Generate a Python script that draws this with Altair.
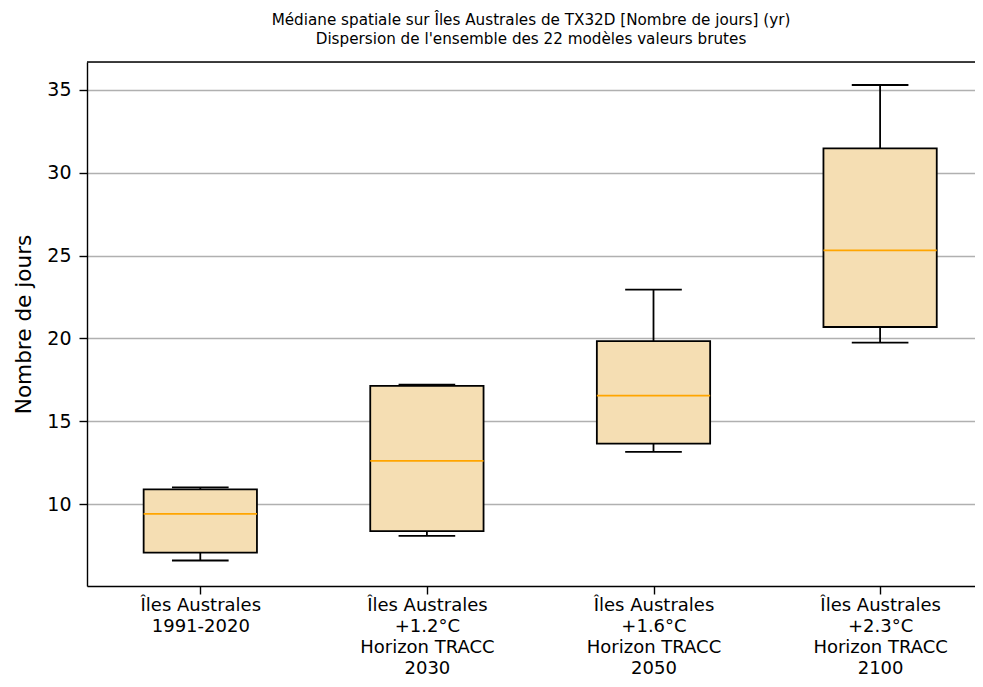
import json
import altair as alt
import pandas as pd

# ---- data ----
labels = [
    "Îles Australes|1991-2020",
    "Îles Australes|+1.2°C|Horizon TRACC|2030",
    "Îles Australes|+1.6°C|Horizon TRACC|2050",
    "Îles Australes|+2.3°C|Horizon TRACC|2100",
]
whisker_low = [6.59, 8.08, 13.15, 19.74]
q1 = [7.06, 8.36, 13.65, 20.69]
median = [9.41, 12.60, 16.54, 25.31]
q3 = [10.89, 17.13, 19.84, 31.48]
whisker_high = [11.01, 17.21, 22.94, 35.30]
y_ticks = [10, 15, 20, 25, 30, 35]

df = pd.DataFrame({
    "pos": list(range(1, len(labels) + 1)),
    "label": labels,
    "lo": whisker_low,
    "q1": q1,
    "med": median,
    "q3": q3,
    "hi": whisker_high,
})

FONT = "DejaVu Sans"
W, H = 888, 524
xdom = [0.5, 0.5 + W / 226.6]
ydom = [5.05, 36.69]

label_expr = "split(" + json.dumps(labels, ensure_ascii=False) + "[datum.value - 1], '|')"

x_axis = alt.Axis(
    values=list(df["pos"]), labelExpr=label_expr, title=None, grid=False,
    labelFontSize=18, labelLineHeight=21, labelFont=FONT, labelColor="black",
    labelPadding=2, tickSize=8, tickColor="black", tickWidth=1.4,
    domainColor="black", domainWidth=1.4, labelBaseline="top",
)
y_axis = alt.Axis(
    values=y_ticks, title="Nombre de jours", grid=True, gridColor="#b0b0b0",
    gridWidth=1.4, labelFontSize=19, labelFont=FONT, labelColor="black",
    labelPadding=8, tickSize=8, tickColor="black", tickWidth=1.4,
    domainColor="black", domainWidth=1.4, titleFont=FONT, titleFontSize=21.6,
    titleFontWeight="normal", titleColor="black", titlePadding=11,
)
xs = alt.Scale(domain=xdom, nice=False, zero=False)
ys = alt.Scale(domain=ydom, nice=False, zero=False)

base = alt.Chart(df).transform_calculate(
    xl="datum.pos - 0.25", xr="datum.pos + 0.25",
    cl="datum.pos - 0.125", cr="datum.pos + 0.125",
)

boxes = base.mark_rect(fill="#F5DEB3", stroke="black", strokeWidth=1.8).encode(
    x=alt.X("xl:Q", scale=xs, axis=x_axis),
    x2="xr:Q",
    y=alt.Y("q1:Q", scale=ys, axis=y_axis),
    y2="q3:Q",
)
whisk_up = base.mark_rule(color="black", strokeWidth=1.8).encode(
    x=alt.X("pos:Q", scale=xs, axis=x_axis),
    y=alt.Y("q3:Q", scale=ys, axis=y_axis), y2="hi:Q",
)
whisk_dn = base.mark_rule(color="black", strokeWidth=1.8).encode(
    x=alt.X("pos:Q", scale=xs, axis=x_axis),
    y=alt.Y("lo:Q", scale=ys, axis=y_axis), y2="q1:Q",
)
cap_hi = base.mark_rule(color="black", strokeWidth=1.8).encode(
    x=alt.X("cl:Q", scale=xs, axis=x_axis), x2="cr:Q",
    y=alt.Y("hi:Q", scale=ys, axis=y_axis),
)
cap_lo = base.mark_rule(color="black", strokeWidth=1.8).encode(
    x=alt.X("cl:Q", scale=xs, axis=x_axis), x2="cr:Q",
    y=alt.Y("lo:Q", scale=ys, axis=y_axis),
)
med_line = base.mark_rule(color="#FFA500", strokeWidth=1.8).encode(
    x=alt.X("xl:Q", scale=xs, axis=x_axis), x2="xr:Q",
    y=alt.Y("med:Q", scale=ys, axis=y_axis),
)
top_frame = alt.Chart(pd.DataFrame({"k": [0]})).mark_rule(
    color="black", strokeWidth=1.4
).encode(x=alt.value(0), x2=alt.value(W), y=alt.value(0))

chart = alt.layer(
    boxes, whisk_up, whisk_dn, cap_hi, cap_lo, med_line, top_frame
).properties(
    width=W, height=H,
    title=alt.Title(
        ["Médiane spatiale sur Îles Australes de TX32D [Nombre de jours] (yr)",
         "Dispersion de l'ensemble des 22 modèles valeurs brutes"],
        font=FONT, fontSize=15.2, fontWeight="normal", color="black",
        lineHeight=19, anchor="middle", offset=14,
    ),
    autosize=alt.AutoSizeParams(type="none"),
    padding={"left": 79, "top": 54, "right": 0, "bottom": 93},
).configure_view(stroke=None).configure(background="white")

chart.save("out.html", embed_options={"renderer": "svg", "actions": False})
